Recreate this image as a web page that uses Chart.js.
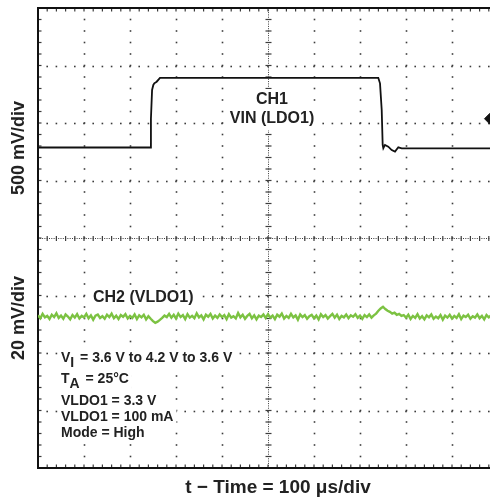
<!DOCTYPE html>
<html>
<head>
<meta charset="utf-8">
<script src="https://cdn.jsdelivr.net/npm/chart.js@4/dist/chart.umd.min.js"></script>
<style>
    html, body { margin: 0; padding: 0; background: #fff; overflow: hidden; }
    #wrap { width: 510px; height: 498px; }
</style>
</head>
<body>
<div id="wrap"><canvas id="ScopeChart" width="510" height="498"></canvas></div>
<script>
// time base: 100 us/div, 10 divisions
const timeMinUs = 0;
const timeMaxUs = 1000;
const timePerDiv = 100;

// CH1 (VIN of LDO1), 500 mV/div
const ch1Min = 0.813;
const ch1PerDiv = 0.5;
const ch1Times = [0, 243.5, 245.5, 248, 250.7, 252.8, 258, 265.2, 739.8, 743.5, 747.2, 749.3, 750.7, 754.3, 761.5, 768.9, 776.1, 783.3, 790.7, 1000];
const ch1Volts = [3.600, 3.600, 3.850, 4.100, 4.144, 4.158, 4.172, 4.205, 4.205, 4.158, 3.926, 3.622, 3.593, 3.622, 3.607, 3.578, 3.564, 3.602, 3.593, 3.593];

// CH2 (VLDO1) ac ripple around 3.3 V, 20 mV/div, one sample every 5 us
const ch2Min = -52.7;
const ch2PerDiv = 20;
const ch2SampleUs = 5;
const ch2RippleMv = [
    0.4, -0.6, 0.9, -0.3, 0.2, -0.9, 0.6, -0.2, 1.1, -0.5, 0.3, -0.8, 0.7, 0.0, -1.0, 0.5, -0.4, 0.8, -0.7, 0.2,
    -0.3, 0.9, -0.6, 0.4, -1.1, 0.3, 0.7, -0.5, 0.1, -0.8, 0.6, -0.2, 1.0, -0.6, 0.3, -0.9, 0.5, -0.1, 0.8, -0.7,
    0.2, -0.5, 0.7, -0.9, 0.4, -0.3, 0.6, -1.0, 0.1, -0.8, -1.6, -2.2, -1.8, -1.2, -0.5, 0.3, -0.2, 0.9, -0.4, 0.6,
    -0.7, 1.0, -0.2, 0.5, -0.9, 0.8, -0.4, 0.2, -0.6, 1.1, -0.3, 0.4, -1.0, 0.6, -0.1, 0.9, -0.7, 0.3, -0.5, 0.7,
    -0.2, 0.5, -0.9, 0.8, -0.4, 0.1, -0.7, 1.2, -0.3, 0.6, -0.8, 0.2, 0.9, -0.6, 0.4, -1.0, 0.3, -0.2, 0.7, -0.5,
    0.8, -0.4, 0.3, -0.9, 0.6, -0.1, 1.0, -0.7, 0.2, -0.5, 0.9, -0.3, 0.4, -1.1, 0.7, -0.2, 0.5, -0.8, 0.1, 0.6,
    -0.6, 0.3, -1.0, 0.8, -0.2, 0.5, -0.7, 0.1, 0.9, -0.4, 0.6, -0.9, 0.2, -0.3, 0.7, -0.6, 0.4, -0.1, 0.8, -0.5,
    0.3, -0.8, 0.5, -0.2, 0.7, -0.4, 0.4, 1.0, 2.0, 2.8, 3.4, 2.6, 2.0, 1.6, 1.0, 1.3, 0.6, 0.9, 0.2, 0.5,
    -0.4, 0.6, -0.9, 0.2, -0.5, 0.8, -0.7, 0.1, -1.0, 0.4, -0.3, 0.7, -0.8, 0.0, -0.6, 0.5, -1.1, 0.3, -0.4, 0.6,
    -0.7, 0.2, -0.5, 0.8, -0.9, 0.3, -0.2, 0.6, -0.8, 0.1, -0.4, 0.7, -0.6, 0.2, -1.0, 0.5, -0.3, 0.4, -0.7, 0.3, 0.0
];

// CH1 level marker at the right edge
const markerTime = [982.6];
const markerLevel = [3.85];

const FONT = '"Liberation Sans", Arial, sans-serif';

const dot = (ctx, x, y, s = 1.6) => ctx.fillRect(x - s / 2, y - s / 2, s, s);

const scopeGrid = {
    id: 'scopeGrid',
    beforeDatasetsDraw(chart) {
        const { ctx, chartArea: a, scales: { x, y1 } } = chart;
        const xMinor = [];
        const yMinor = [];
        for (let i = 0; i <= 50; i++)
            xMinor.push(x.getPixelForValue(timeMinUs + i * timePerDiv / 5));
        for (let j = 0; j <= 40; j++)
            yMinor.push(y1.getPixelForValue(ch1Min + j * ch1PerDiv / 5));

        ctx.save();
        ctx.fillStyle = '#3c3c3c';

        // dotted major lines
        for (let i = 1; i < 10; i++) {
            if (i === 5) continue;
            const px = Math.round(x.getPixelForValue(timeMinUs + i * timePerDiv)) + 0.5;
            yMinor.forEach(py => dot(ctx, px, py));
        }
        for (let j = 1; j < 8; j++) {
            if (j === 4) continue;
            const py = Math.round(y1.getPixelForValue(ch1Min + j * ch1PerDiv)) + 0.5;
            xMinor.forEach(px => dot(ctx, px, py));
        }

        // centre cross with minor ticks
        const cx = Math.round(x.getPixelForValue(timeMinUs + 5 * timePerDiv)) + 0.5;
        const cy = Math.round(y1.getPixelForValue(ch1Min + 4 * ch1PerDiv)) + 0.5;
        for (let px = a.left; px <= a.right; px += 2.3)
            dot(ctx, px, cy, 1);
        for (let py = a.top; py <= a.bottom; py += 2.3)
            dot(ctx, cx, py, 1);
        xMinor.forEach(px => ctx.fillRect(px - 0.6, cy - 2.5, 1.2, 5));
        yMinor.forEach(py => ctx.fillRect(cx - 3, py - 0.6, 6, 1.2));

        // ticks on the frame
        xMinor.forEach(px => {
            ctx.fillRect(px - 0.6, a.top, 1.2, 3.5);
            ctx.fillRect(px - 0.6, a.bottom - 3.5, 1.2, 3.5);
        });
        yMinor.forEach(py => {
            ctx.fillRect(a.left, py - 0.6, 3.5, 1.2);
            ctx.fillRect(a.right - 3.5, py - 0.6, 3.5, 1.2);
        });

        // frame
        ctx.strokeStyle = '#111';
        ctx.lineWidth = 2;
        ctx.strokeRect(a.left, a.top, a.right - a.left, a.bottom - a.top);
        ctx.restore();
    }
};

// text run: parts of [text, subscript?]
const drawRun = (ctx, parts, x, baseline, size) => {
    ctx.font = `bold ${size}px ${FONT}`;
    let w = 0;
    parts.forEach(([t, sub]) => { w += ctx.measureText(t).width + (sub ? 2 : 0); });
    ctx.fillStyle = '#fff';
    ctx.fillRect(x - 3, baseline - size + 1, w + 6, size + 6);
    ctx.fillStyle = '#222';
    let cx = x;
    parts.forEach(([t, sub]) => {
        ctx.fillText(t, cx, baseline + (sub ? 5 : 0));
        cx += ctx.measureText(t).width + (sub ? 2 : 0);
    });
};

const scopeText = {
    id: 'scopeText',
    afterDraw(chart) {
        const { ctx } = chart;
        ctx.save();
        ctx.textBaseline = 'alphabetic';
        ctx.textAlign = 'left';

        // channel labels
        ctx.font = `bold 16px ${FONT}`;
        ['CH1', 'VIN (LDO1)'].forEach((t, i) => {
            const w = ctx.measureText(t).width;
            drawRun(ctx, [[t]], 272 - w / 2, 104 + i * 19, 16);
        });
        drawRun(ctx, [['CH2 (VLDO1)']], 93, 302, 16);

        // conditions
        drawRun(ctx, [['V'], ['I', true], [' = 3.6 V to 4.2 V to 3.6 V']], 61, 362, 14);
        drawRun(ctx, [['T'], ['A', true], [' = 25°C']], 61, 383, 14);
        drawRun(ctx, [['VLDO1 = 3.3 V']], 61, 405, 14);
        drawRun(ctx, [['VLDO1 = 100 mA']], 61, 421, 14);
        drawRun(ctx, [['Mode = High']], 61, 437, 14);

        // axis titles
        ctx.fillStyle = '#222';
        ctx.font = `bold 18px ${FONT}`;
        ctx.textAlign = 'center';
        ctx.textBaseline = 'middle';
        [['500 mV/div', 148], ['20 mV/div', 318]].forEach(([t, cy]) => {
            ctx.save();
            ctx.translate(19, cy);
            ctx.rotate(-Math.PI / 2);
            ctx.fillText(t, 0, 0);
            ctx.restore();
        });
        ctx.font = `bold 19px ${FONT}`;
        ctx.textBaseline = 'alphabetic';
        ctx.fillText('t \u2212 Time = 100 \u03bcs/div', 278, 493);
        ctx.restore();
    }
};

const renderChart = () => {
    const canvas = document.getElementById('ScopeChart').getContext('2d');

    new Chart(canvas, {
        type: 'line',
        data: {
            datasets: [
                {
                    label: 'CH1 VIN (LDO1)',
                    data: ch1Times.map((t, i) => ({ x: t, y: ch1Volts[i] })),
                    yAxisID: 'y1',
                    borderColor: '#111',
                    borderWidth: 1.8,
                    pointRadius: 0,
                    tension: 0
                },
                {
                    label: 'CH2 (VLDO1)',
                    data: ch2RippleMv.map((v, i) => ({ x: timeMinUs + i * ch2SampleUs, y: v })),
                    yAxisID: 'y2',
                    borderColor: '#7cc242',
                    borderWidth: 2.4,
                    pointRadius: 0,
                    tension: 0
                },
                {
                    label: 'Level',
                    data: markerTime.map((t, i) => ({ x: t, y: markerLevel[i] })),
                    yAxisID: 'y1',
                    showLine: false,
                    pointStyle: 'rectRot',
                    pointRadius: 5.5,
                    backgroundColor: '#111',
                    borderColor: '#111'
                }
            ]
        },
        options: {
            responsive: false,
            animation: false,
            events: [],
            layout: { padding: { left: 38, top: 8, right: 12, bottom: 30 } },
            plugins: {
                legend: { display: false },
                tooltip: { enabled: false }
            },
            scales: {
                x: { type: 'linear', display: false, min: timeMinUs, max: timeMaxUs },
                y1: { type: 'linear', display: false, min: ch1Min, max: ch1Min + 8 * ch1PerDiv },
                y2: { type: 'linear', display: false, min: ch2Min, max: ch2Min + 8 * ch2PerDiv }
            }
        },
        plugins: [scopeGrid, scopeText]
    });
}

renderChart();
</script>
</body>
</html>
